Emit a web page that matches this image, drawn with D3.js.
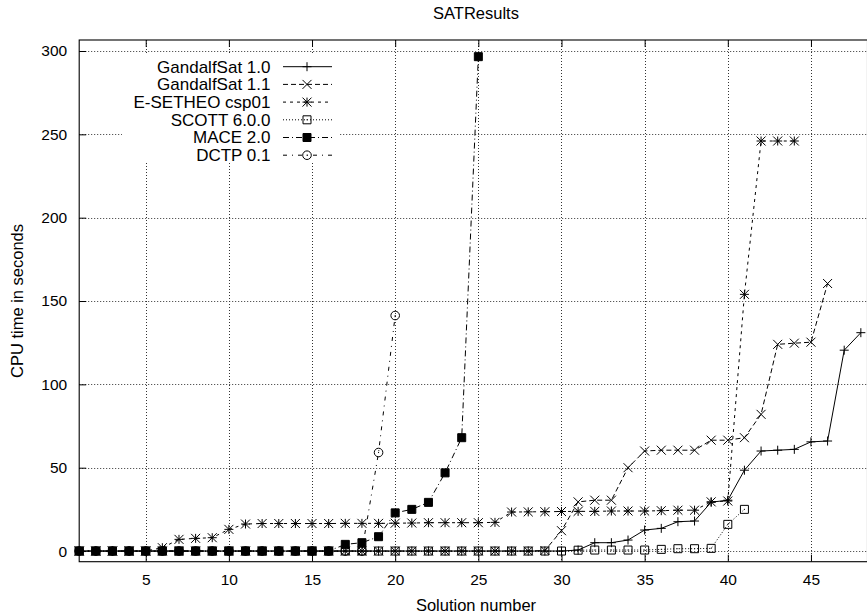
<!DOCTYPE html>
<html lang="en">
	<head>
		<meta charset="utf-8">
		<title>SATResults</title>
		<script type="text/javascript" src="https://cdn.jsdelivr.net/npm/d3@7/dist/d3.min.js"></script>
		<style type="text/css">
			body { margin: 0; background: #fff; }
			svg { display: block; font-family: "Liberation Sans", Arial, sans-serif; }
		</style>
	</head>

	<body>
		<script type="text/javascript">
			/* solution number is index + 1 in every series */
			var seriesNames = ["GandalfSat 1.0", "GandalfSat 1.1", "E-SETHEO csp01", "SCOTT 6.0.0", "MACE 2.0", "DCTP 0.1"];

			var gandalf10 = [0,0,0,0,0, 0,0,0,0,0, 0,0,0,0,0, 0,0,0,0,0, 0,0,0,0,0, 0,0,0,0,0,
							 0.6, 5, 5, 6.6, 12.6, 13.6, 17.6, 18, 29.3, 30.5, 48.5, 60, 60.5, 61, 65.5, 66, 120.5, 131];
			var gandalf11 = [0,0,0,0,0, 0,0,0,0,0, 0,0,0,0,0, 0,0,0,0,0, 0,0,0,0,0, 0,0,0,0.3,
							 12.2, 29.5, 30.5, 30.5, 50, 60, 60.5, 60.5, 60.5, 66.5, 66.5, 68, 82, 124, 124.7, 125.3, 160.5];
			var esetheo = [0,0,0,0,0, 2, 7, 7.6, 8, 13, 16.2, 16.5, 16.5, 16.5, 16.5, 16.5, 16.6, 16.6, 16.6, 16.7,
						   16.8, 17, 17, 17, 17, 17.2, 23.4, 23.5, 23.6, 23.7, 23.8, 23.8, 24, 24, 24, 24.2, 24.5, 24.5,
						   29.5, 30, 154, 246, 246, 246];
			var scott = [0,0,0,0,0, 0,0,0,0,0, 0,0,0,0,0, 0,0,0,0,0, 0,0,0,0,0, 0,0,0,0,0,
						 0.5, 0.6, 0.6, 0.6, 0.6, 1, 1.4, 1.4, 1.6, 16, 25];
			var mace = [0,0,0,0,0, 0,0,0,0,0, 0,0,0,0,0, 0, 4, 5, 8.6, 22.9, 25, 29.2, 46.9, 68, 296.6];
			var dctp = [0,0,0,0,0, 0,0,0,0,0, 0,0,0,0,0, 0,0,0, 59.1, 141.3];

			var xTicks = [5, 10, 15, 20, 25, 30, 35, 40, 45];
			var yTicks = [0, 50, 100, 150, 200, 250, 300];

			var svgWidth = 867;
			var svgHeight = 615;
			var plotLeft = 79.2, plotRight = 867.5, plotTop = 40, plotBottom = 561.7;

			var xScale = d3.scaleLinear().domain([1, 48.4]).range([plotLeft, plotRight]);
			var yScale = d3.scaleLinear().domain([-6.4, 306.6]).range([plotBottom, plotTop]);

			var svg = d3.select("body")
				.append("svg")
				.attr("width", svgWidth)
				.attr("height", svgHeight);

			/* dotted grid */
			var grid = svg.append("g")
				.attr("stroke", "#333")
				.attr("stroke-width", 1)
				.attr("stroke-dasharray", "1,2");
			grid.selectAll("line.gx")
				.data(xTicks)
				.enter()
				.append("line")
				.attr("x1", function(d) { return Math.round(xScale(d)) + 0.5; })
				.attr("x2", function(d) { return Math.round(xScale(d)) + 0.5; })
				.attr("y1", plotTop)
				.attr("y2", plotBottom);
			grid.selectAll("line.gy")
				.data(yTicks)
				.enter()
				.append("line")
				.attr("y1", function(d) { return Math.round(yScale(d)) + 0.5; })
				.attr("y2", function(d) { return Math.round(yScale(d)) + 0.5; })
				.attr("x1", plotLeft)
				.attr("x2", plotRight);

			/* key area hides the grid */
			svg.append("rect")
				.attr("x", 122).attr("y", 55)
				.attr("width", 218).attr("height", 107)
				.attr("fill", "#fff");

			/* axes, ticks point inward */
			var xAxis = svg.append("g")
				.attr("transform", "translate(0," + plotBottom + ")")
				.call(d3.axisBottom(xScale).tickValues(xTicks).tickSizeInner(-7).tickSizeOuter(0).tickPadding(12));
			var xAxisTop = svg.append("g")
				.attr("transform", "translate(0," + plotTop + ")")
				.call(d3.axisTop(xScale).tickValues(xTicks).tickSizeInner(-7).tickSizeOuter(0).tickFormat(""));
			var yAxis = svg.append("g")
				.attr("transform", "translate(" + plotLeft + ",0)")
				.call(d3.axisLeft(yScale).tickValues(yTicks).tickSizeInner(-7).tickSizeOuter(0).tickPadding(12));
			[xAxis, xAxisTop, yAxis].forEach(function(a) {
				a.select(".domain").remove();
				a.selectAll("line").attr("stroke", "#000");
				a.selectAll("text").attr("fill", "#000").attr("font-size", "15.5px").attr("font-family", "Liberation Sans, Arial, sans-serif");
			});

			svg.append("rect")
				.attr("x", plotLeft).attr("y", plotTop)
				.attr("width", plotRight - plotLeft).attr("height", plotBottom - plotTop)
				.attr("fill", "none").attr("stroke", "#000").attr("stroke-width", 1.1);

			/* marker shapes like gnuplot's point types */
			function markerPath(type) {
				var s = 4.5;
				if (type === "plus") return "M" + (-s) + ",0H" + s + "M0," + (-s) + "V" + s;
				if (type === "cross") return "M" + (-s) + "," + (-s) + "L" + s + "," + s + "M" + (-s) + "," + s + "L" + s + "," + (-s);
				if (type === "star") return "M" + (-s) + ",0H" + s + "M0," + (-s) + "V" + s +
					"M" + (-s) + "," + (-s) + "L" + s + "," + s + "M" + (-s) + "," + s + "L" + s + "," + (-s);
				if (type === "box" || type === "fbox") return "M-4,-4H4V4H-4Z";
				if (type === "circle") return d3.arc()({ innerRadius: 0, outerRadius: 4.3, startAngle: 0, endAngle: 2 * Math.PI });
				return "";
			}

			var series = [
				{ name: seriesNames[0], values: gandalf10, dash: null, marker: "plus" },
				{ name: seriesNames[1], values: gandalf11, dash: "5,3", marker: "cross" },
				{ name: seriesNames[2], values: esetheo, dash: "3,4", marker: "star" },
				{ name: seriesNames[3], values: scott, dash: "1,2", marker: "box" },
				{ name: seriesNames[4], values: mace, dash: "6,3,1,3", marker: "fbox" },
				{ name: seriesNames[5], values: dctp, dash: "4,5,1,5", marker: "circle" }
			];

			var line = d3.line()
				.x(function(d, i) { return xScale(i + 1); })
				.y(function(d) { return yScale(d); });

			function drawMarker(g, type) {
				g.append("path")
					.attr("d", markerPath(type))
					.attr("fill", type === "fbox" ? "#000" : "none")
					.attr("stroke", "#000")
					.attr("stroke-width", 1);
				if (type === "box" || type === "circle") {
					g.append("rect").attr("x", -0.5).attr("y", -0.5).attr("width", 1).attr("height", 1).attr("fill", "#000");
				}
			}

			series.forEach(function(s) {
				svg.append("path")
					.datum(s.values)
					.attr("d", line)
					.attr("fill", "none")
					.attr("stroke", "#000")
					.attr("stroke-width", 1)
					.attr("stroke-dasharray", s.dash);

				svg.append("g")
					.selectAll("g")
					.data(s.values)
					.enter()
					.append("g")
					.attr("transform", function(d, i) { return "translate(" + xScale(i + 1) + "," + yScale(d) + ")"; })
					.each(function() { drawMarker(d3.select(this), s.marker); });
			});

			/* key */
			var key = svg.append("g");
			var keyRows = key.selectAll("g")
				.data(series)
				.enter()
				.append("g")
				.attr("transform", function(d, i) { return "translate(0," + (66.7 + i * 17.7) + ")"; });
			keyRows.append("text")
				.attr("x", 270.5)
				.attr("dy", "0.35em")
				.attr("text-anchor", "end")
				.attr("font-size", "17px")
				.text(function(d) { return d.name; });
			keyRows.append("line")
				.attr("x1", 283).attr("x2", 332)
				.attr("stroke", "#000")
				.attr("stroke-width", 1)
				.attr("stroke-dasharray", function(d) { return d.dash; });
			keyRows.append("g")
				.attr("transform", "translate(307,0)")
				.each(function(d) { drawMarker(d3.select(this), d.marker); });

			/* titles */
			svg.append("text")
				.attr("x", 476).attr("y", 19)
				.attr("text-anchor", "middle")
				.attr("font-size", "16.5px")
				.text("SATResults");
			svg.append("text")
				.attr("x", 476).attr("y", 611)
				.attr("text-anchor", "middle")
				.attr("font-size", "16.5px")
				.text("Solution number");
			svg.append("text")
				.attr("transform", "translate(23,301) rotate(-90)")
				.attr("text-anchor", "middle")
				.attr("font-size", "16.5px")
				.text("CPU time in seconds");
		</script>
	</body>
</html>
